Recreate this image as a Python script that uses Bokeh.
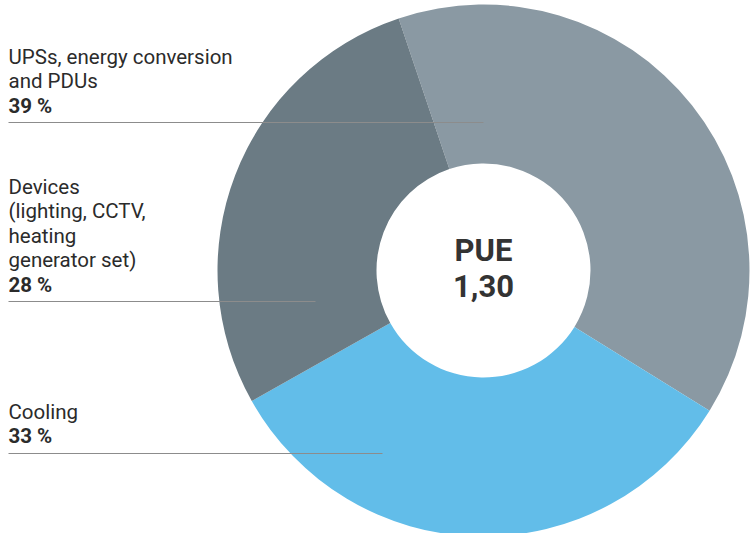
import numpy as np
from bokeh.plotting import figure
from bokeh.models import Range1d, ColumnDataSource
from bokeh.core.properties import value
from bokeh.embed import file_html
from bokeh.resources import INLINE

# ---- data ----
categories = ["UPSs, energy conversion and PDUs", "Cooling", "Devices (lighting, CCTV, heating generator set)"]
label_lines = [
    ["UPSs, energy conversion", "and PDUs"],
    ["Cooling"],
    ["Devices", "(lighting, CCTV,", "heating", "generator set)"],
]
shares = [39, 33, 28]
pct_labels = ["39 %", "33 %", "28 %"]
center_title = "PUE"
center_value = "1,30"

# ---- style / layout ----
W, H = 751, 533
colors = ["#8a99a3", "#62bde9", "#6b7b84"]
CX, CY = 483, 270          # pixel coords (top-left origin)
R_OUT, R_IN = 266, 107
START_DEG = 108.6          # math angle of first slice start, going clockwise
FONT = "Roboto"
TXT = "#2b2b2b"

def Y(py):
    return H - py

p = figure(width=W, height=H, output_backend="svg", toolbar_location=None,
           x_range=Range1d(0, W), y_range=Range1d(0, H), min_border=0,
           border_fill_color="white", background_fill_color="white",
           outline_line_color=None)
p.axis.visible = False
p.grid.visible = False

total = float(sum(shares))
ends = START_DEG - np.cumsum(shares) / total * 360.0
starts = np.concatenate([[START_DEG], ends[:-1]])
src = ColumnDataSource(dict(start=np.radians(ends), end=np.radians(starts), color=colors))
p.annular_wedge(x=CX, y=Y(CY), inner_radius=R_IN, outer_radius=R_OUT,
                start_angle="start", end_angle="end", color="color",
                line_color=None, source=src)

# label layout: (first line center y, leader y, leader end x) per category
layout = {0: (56, 122, 483), 1: (411, 453, 382), 2: (186, 301, 315)}
LH = 24.5
for i, lines in enumerate(label_lines):
    y0, ly, lx = layout[i]
    ys = [Y(y0 + k * LH) for k in range(len(lines))]
    p.text(x=[8] * len(lines), y=ys, text=lines, text_font=value(FONT),
           text_font_size="20.5px", text_color=TXT, text_baseline="middle")
    p.text(x=[8], y=[Y(y0 + len(lines) * LH)], text=[pct_labels[i]], text_font=value(FONT),
           text_font_size="20.5px", text_font_style="bold", text_color=TXT, text_baseline="middle")
    p.segment(x0=[8], y0=[Y(ly)], x1=[lx], y1=[Y(ly)], line_color="#8c8c8c", line_width=1)

p.text(x=[CX], y=[Y(250)], text=[center_title], text_font=value(FONT), text_font_size="31px",
       text_font_style="bold", text_color="#333333", text_align="center", text_baseline="middle")
p.text(x=[CX], y=[Y(285)], text=[center_value], text_font=value(FONT), text_font_size="31px",
       text_font_style="bold", text_color="#333333", text_align="center", text_baseline="middle")

open("out.html", "w").write(file_html(p, INLINE))
